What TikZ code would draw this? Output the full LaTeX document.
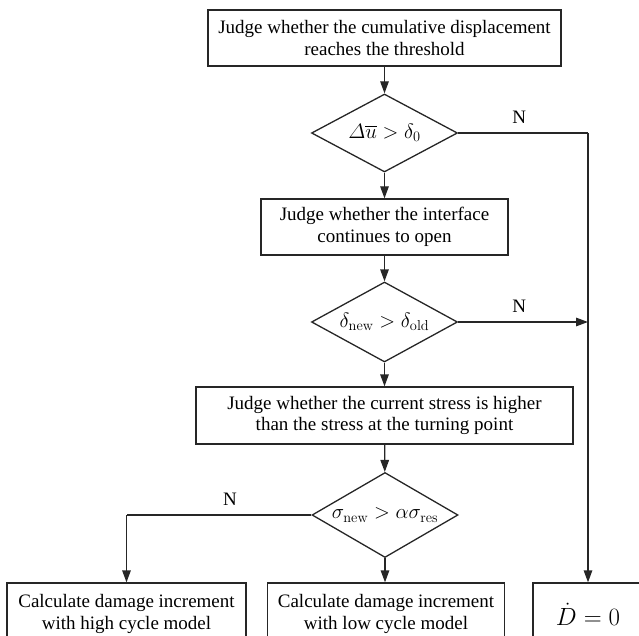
\documentclass[tikz,border=0pt]{standalone}
\usepackage{amsmath}
\usepackage[no-math]{fontspec}
\setmainfont{Liberation Serif}
\usetikzlibrary{shapes.geometric,arrows.meta}
\begin{document}
\begin{tikzpicture}[x=1pt,y=1pt,
  box/.style={draw=black!85,line width=1.3pt,inner sep=0pt,align=center,
    font=\fontsize{19}{21.5}\selectfont},
  dec/.style={draw=black!85,line width=1.3pt,diamond,inner sep=0pt,aspect=1.85,
    minimum width=146pt,font=\fontsize{20}{24}\selectfont},
  arr/.style={draw=black!85,line width=1.3pt,-{Triangle[length=12pt,width=8.5pt]}},
  ln/.style={draw=black!85,line width=1.3pt},
  lab/.style={font=\fontsize{19}{22}\selectfont,inner sep=0pt}]
\useasboundingbox (0,0) rectangle (639,-636);
\clip (0,0) rectangle (639,-636);
\node[box,minimum width=353pt,minimum height=56pt] (top) at (384.5,-38)
  {Judge whether the cumulative displacement\\reaches the threshold};
\node[dec,minimum height=78pt] (d1) at (384.5,-133) {$\varDelta\overline{u}\;{>}\;\delta_0$};
\node[box,minimum width=247pt,minimum height=56pt] (b2top) at (384.5,-227)
  {Judge whether the interface\\continues to open};
\node[dec,minimum height=80pt] (d2) at (384.5,-322) {$\delta_{\mathrm{new}}>\delta_{\mathrm{old}}$};
\node[box,minimum width=377pt,minimum height=57pt] (b3top) at (384.5,-415.5)
  {Judge whether the current stress is higher\\than the stress at the turning point};
\node[dec,minimum height=85pt] (d3) at (385,-515) {$\sigma_{\mathrm{new}}>\alpha\sigma_{\mathrm{res}}$};
\node[box,minimum width=239pt,minimum height=62pt] (high) at (126.5,-614)
  {Calculate damage increment\\with high cycle model};
\node[box,minimum width=237pt,minimum height=62pt] (low) at (386,-614)
  {Calculate damage increment\\with low cycle model};
\node[box,minimum width=110pt,minimum height=62pt,font=\fontsize{24}{28}\selectfont] (zero) at (588,-614)
  {$\dot{D}=0$};
\coordinate (c1) at (zero.north |- d1.east);
\coordinate (c2) at (zero.north |- d2.east);
\coordinate (c3) at (high.north |- d3.west);
\draw[arr] (top) -- (d1);
\draw[arr] (d1) -- (b2top);
\draw[arr] (b2top) -- (d2);
\draw[arr] (d2) -- (b3top);
\draw[arr] (b3top) -- (d3);
\draw[arr] (d3.south) -- (d3.south |- low.north);
\draw[ln] (d1.east) -- node[lab,pos=0.47,above=9pt] {N} (c1);
\draw[arr] (c1) -- (zero.north);
\draw[arr] (d2.east) -- node[lab,pos=0.47,above=9pt] {N} (c2);
\draw[ln] (d3.west) -- node[lab,pos=0.44,above=9pt] {N} (c3);
\draw[arr] (c3) -- (high.north);
\end{tikzpicture}
\end{document}
